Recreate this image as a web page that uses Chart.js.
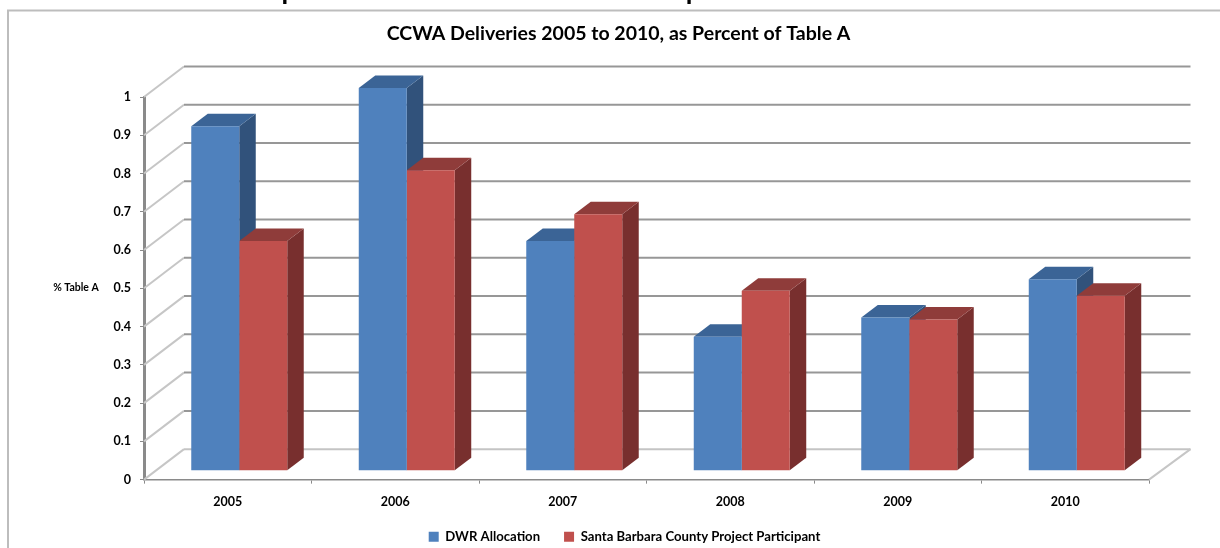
<!DOCTYPE html>
<html><head><meta charset="utf-8">
<style>html,body{margin:0;padding:0;background:#fff;overflow:hidden}canvas{display:block}</style>
<script src="https://cdn.jsdelivr.net/npm/chart.js@4"></script></head>
<body><canvas id="c" width="1220" height="548"></canvas>
<script>
const categories = ["2005","2006","2007","2008","2009","2010"];
const dwrAllocation = [0.90,1.00,0.60,0.35,0.40,0.50];
const santaBarbara = [0.60,0.785,0.67,0.47,0.395,0.457];
const seriesNames = ["DWR Allocation","Santa Barbara County Project Participant"];
const chartTitle = "CCWA Deliveries 2005 to 2010, as Percent of Table A";
const pageHeading = "Graph 2: Historical Performance Compared to DWR Allocation";
const yAxisLabel = "% Table A";
const FONT = "Lato, 'Open Sans', sans-serif";

const BAR_DX = 11.5, BAR_DY = -9, DEPTH_X = 16.5, DEPTH_Y = -12.5;
const WALL_LEFT = 40, WALL_RIGHT = 41.5, WALL_UP = 30.5;
const faceColors = [{top:"#3b6496",side:"#31527b"},{top:"#8f3c3a",side:"#782f2e"}];

function poly(ctx, pts, fill){
  ctx.fillStyle = fill; ctx.beginPath();
  pts.forEach((p,i)=> i? ctx.lineTo(p[0],p[1]) : ctx.moveTo(p[0],p[1]));
  ctx.closePath(); ctx.fill();
}
const plugin3d = {
  id:"plugin3d",
  afterLayout(chart){
    chart.titleBlock.left += 44; chart.titleBlock.right += 44;
    const l = chart.legend; l.left += 50; l.right += 50; l.top -= 5.6; l.bottom -= 5.6;
  },
  beforeDraw(chart){
    const c = chart.ctx;
    c.save();
    c.strokeStyle = "#bdbdbd"; c.lineWidth = 2;
    c.beginPath(); c.moveTo(8,548); c.lineTo(8,10.5); c.lineTo(1220,10.5); c.stroke();
    c.fillStyle = "#000"; c.font = "bold 27px "+FONT; c.textAlign = "center"; c.textBaseline = "alphabetic";
    c.fillText(pageHeading, 613, 0);
    c.font = "bold 10.5px "+FONT; c.textBaseline = "middle";
    c.fillText(yAxisLabel, 76, 288);
    c.restore();
  },
  beforeDatasetsDraw(chart){
    const c = chart.ctx, ys = chart.scales.y, a = chart.chartArea;
    c.save();
    c.lineWidth = 2;
    ys.ticks.forEach(t=>{
      const y = ys.getPixelForValue(t.value);
      c.strokeStyle = "#c6c6c6";
      c.beginPath(); c.moveTo(a.left,y); c.lineTo(a.left+WALL_LEFT,y-WALL_UP); c.stroke();
      c.strokeStyle = t.value===0 ? "#c4c4c4" : "#979797";
      c.beginPath(); c.moveTo(a.left+WALL_LEFT,y-WALL_UP); c.lineTo(a.right+WALL_RIGHT,y-WALL_UP); c.stroke();
    });
    const y0 = ys.getPixelForValue(0);
    c.strokeStyle = "#c6c6c6";
    c.beginPath(); c.moveTo(a.right,y0); c.lineTo(a.right+WALL_RIGHT,y0-WALL_UP); c.stroke();
    c.translate(BAR_DX,BAR_DY);
    chart.data.datasets.forEach((ds,di)=>{
      chart.getDatasetMeta(di).data.forEach(b=>{
        const p = b.getProps(["x","y","base","width"],true);
        const l = p.x-p.width/2, r = p.x+p.width/2;
        poly(c,[[r,p.y],[r+DEPTH_X,p.y+DEPTH_Y],[r+DEPTH_X,p.base+DEPTH_Y],[r,p.base]],faceColors[di].side);
        poly(c,[[l,p.y],[l+DEPTH_X,p.y+DEPTH_Y],[r+DEPTH_X,p.y+DEPTH_Y],[r,p.y]],faceColors[di].top);
      });
    });
  },
  afterDatasetsDraw(chart){ chart.ctx.restore(); }
};

new Chart(document.getElementById("c"),{
  type:"bar",
  data:{labels:categories,datasets:[
    {label:seriesNames[0],data:dwrAllocation,backgroundColor:"#4f81bd",clip:false},
    {label:seriesNames[1],data:santaBarbara,backgroundColor:"#c0504d",clip:false}
  ]},
  options:{
    responsive:false,animation:false,
    categoryPercentage:0.573,barPercentage:1,
    layout:{padding:{left:0,right:71,top:0,bottom:-10.8}},
    plugins:{
      tooltip:{enabled:false},
      title:{display:true,text:chartTitle,color:"#000",font:{family:FONT,size:19.5,weight:"bold",lineHeight:1.2},padding:{top:22.5,bottom:51.1}},
      legend:{position:"bottom",labels:{color:"#000",boxWidth:10,boxHeight:10,padding:24,font:{family:FONT,size:13.15,weight:"bold"}}}
    },
    scales:{
      x:{
        afterFit(s){s.height=32;},
        grid:{drawOnChartArea:false,drawTicks:true,tickLength:4,color:"#8a8a8a"},
        border:{color:"#8a8a8a",width:1.5},
        ticks:{color:"#000",padding:11,maxRotation:0,font:{family:FONT,size:12.5,weight:"bold"}}
      },
      y:{
        min:0,max:1,
        afterFit(s){s.width=144;},
        grid:{drawOnChartArea:false,drawTicks:true,tickLength:4,color:"#8a8a8a"},
        border:{color:"#8a8a8a",width:3},
        ticks:{stepSize:0.1,color:"#000",padding:9,font:{family:FONT,size:12.5,weight:"bold"},callback:v=>String(Math.round(v*10)/10)}
      }
    }
  },
  plugins:[plugin3d]
});
</script></body></html>
